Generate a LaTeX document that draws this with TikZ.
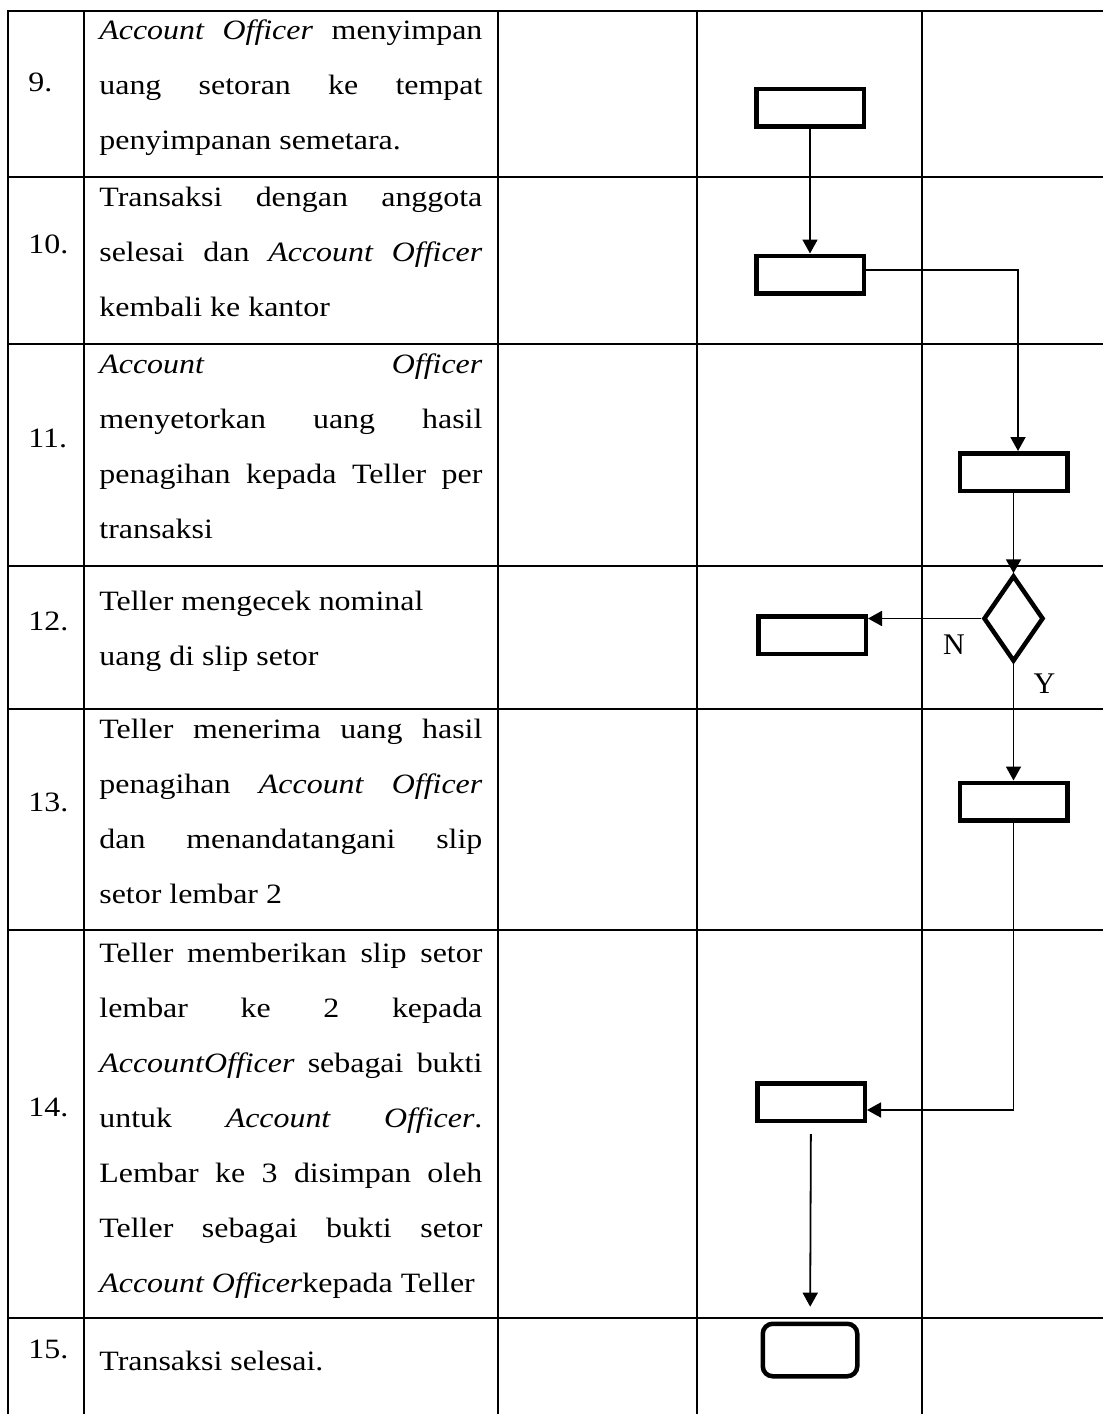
\documentclass[tikz,border=0pt]{standalone}
\usepackage{fontspec}
\setmainfont{Liberation Serif}[FakeStretch=1.14]
\newfontfamily\markfont{Liberation Serif}
\usetikzlibrary{arrows.meta,shapes.geometric}
\tolerance=10000
\hbadness=10000
\hyphenpenalty=10000
\exhyphenpenalty=10000

\begin{document}
\begin{tikzpicture}[x=0.5pt,y=-0.5pt,
  rule/.style={line width=1pt,line cap=rect},
  proc/.style={draw,line width=2.25pt,rectangle,inner sep=0pt,minimum width=53.75pt,minimum height=18.75pt},
  term/.style={proc,rounded corners=5pt,minimum width=47.25pt,minimum height=26.25pt},
  decide/.style={draw,line width=2.25pt,diamond,inner sep=0pt,minimum width=30pt,minimum height=43pt},
  flow/.style={line width=0.9pt,-{Triangle[width=7.5pt,length=7pt]}},
  desc/.style={anchor=base west,inner sep=0pt,text width=191.5pt,align=justify,font=\fontsize{14}{27.5}\selectfont},
  num/.style={anchor=base west,inner sep=0pt,font=\fontsize{14}{16}\selectfont},
  yn/.style={anchor=base,inner sep=0pt,font=\markfont\fontsize{15}{18}\selectfont}]
\useasboundingbox (0,0) rectangle (1103,1414);
\fill[white] (0,0) rectangle (1103,1414);

% table rules
\foreach \y in {10.5,176.7,343.7,565.7,709,930,1318}
  \draw[rule] (7.5,\y) -- (1103,\y);
\foreach \x in {7.5,84,498,697,922}
  \draw[rule] (\x,10.5) -- (\x,1414);

% step numbers
\node[num] (n9)  at (28,91)   {9.};
\node[num] (n10) at (28,253)  {10.};
\node[num] (n11) at (28,447)  {11.};
\node[num] (n12) at (28,630)  {12.};
\node[num] (n13) at (28,811)  {13.};
\node[num] (n14) at (28,1116) {14.};
\node[num] (n15) at (28,1358) {15.};

% step descriptions
\node[desc] (s9) at (99,39.5) {\textit{Account Officer} menyimpan\linebreak uang setoran ke tempat\linebreak penyimpanan semetara.};
\node[desc] (s10) at (99,206) {Transaksi dengan anggota\linebreak selesai dan \textit{Account Officer}\linebreak kembali ke kantor};
\node[desc] (s11) at (99,373) {\textit{Account Officer}\linebreak menyetorkan uang hasil\linebreak penagihan kepada Teller per\linebreak transaksi};
\node[desc] (s12) at (99,610) {Teller mengecek nominal\newline uang di slip setor};
\node[desc] (s13) at (99,738) {Teller menerima uang hasil\linebreak penagihan \textit{Account Officer}\linebreak dan menandatangani slip\linebreak setor lembar 2};
\node[desc] (s14) at (99,962) {Teller memberikan slip setor\linebreak lembar ke 2 kepada\linebreak \textit{AccountOfficer} sebagai bukti\linebreak untuk \textit{Account Officer}.\linebreak Lembar ke 3 disimpan oleh\linebreak Teller sebagai bukti setor\linebreak \textit{Account Officer}kepada Teller};
\node[desc] (s15) at (99,1370) {Transaksi selesai.};

% flow symbols
\node[proc] (b9)  at (810,107.5) {};
\node[proc] (b10) at (810,274.5) {};
\node[proc] (b11) at (1013.5,472) {};
\node[decide] (d12) at (1013.5,618.5) {};
\node[proc] (b12) at (812,635) {};
\node[proc] (b13) at (1013.5,801.5) {};
\node[proc] (b14) at (811,1102) {};
\node[term] (t15) at (810,1350) {};

% connectors
\draw[flow] (b9) -- (b10);
\coordinate (k10) at (1018,270);
\draw[flow] (b10.east |- k10) -- (k10) -- (k10 |- b11.north);
\draw[flow] (b11) -- (d12);
\draw[flow] (d12.west) -- (d12.west -| b12.east);
\draw[flow] (d12) -- (b13);
\coordinate (k14) at (1013.5,1110);
\draw[flow] (b13.south) -- (k14) -- (k14 -| b14.east);
\draw[flow,shorten <=5.6pt,shorten >=7.4pt] (b14) -- (t15);

% decision labels
\node[yn] (lN) at (954,654) {N};
\node[yn] (lY) at (1044.5,693) {Y};
\end{tikzpicture}
\end{document}
